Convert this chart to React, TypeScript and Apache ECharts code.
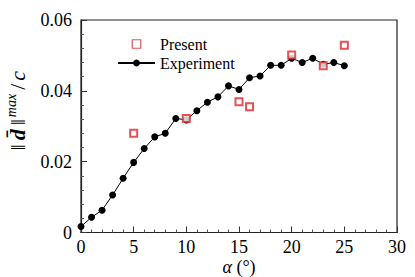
import React, { useEffect, useRef } from "react";
import * as echarts from "echarts";

const alphaExp = [0, 1, 2, 3, 4, 5, 6, 7, 8, 9, 10, 11, 12, 13, 14, 15, 16, 17, 18, 19, 20, 21, 22, 23, 24, 25];
const experiment = [0.0017, 0.0043, 0.0063, 0.0106, 0.0153, 0.0198, 0.0237, 0.027, 0.028, 0.0322, 0.0318, 0.0344, 0.0368, 0.0383, 0.0414, 0.0404, 0.0437, 0.0442, 0.0472, 0.0472, 0.0492, 0.048, 0.0492, 0.0475, 0.048, 0.0471];
const alphaPresent = [5, 10, 15, 16, 20, 23, 25];
const present = [0.028, 0.0322, 0.0369, 0.0355, 0.0501, 0.0471, 0.0529];

const FONT = "Liberation Serif";
const RED = "#e0262b";

export default function App() {
  const ref = useRef<HTMLDivElement>(null);
  useEffect(() => {
    if (!ref.current) return;
    const chart = echarts.init(ref.current, null, { renderer: "svg" });
    chart.setOption({
      animation: false,
      backgroundColor: "#fff",
      textStyle: { fontFamily: FONT },
      grid: {
        left: 81,
        right: 18,
        top: 20,
        bottom: 44.5,
        show: true,
        borderColor: "#222",
        borderWidth: 1.2,
        containLabel: false,
        outerBoundsMode: "none",
      },
      legend: {
        orient: "vertical",
        left: 112,
        top: 31,
        itemWidth: 37,
        itemHeight: 8.5,
        itemGap: 3,
        symbolKeepAspect: true,
        textStyle: { fontFamily: FONT, fontSize: 16, color: "#000" },
        data: [
          {
            name: "Present",
            icon: "path://M0,0L10,0L10,10L0,10Z",
            itemStyle: { color: "#fff", borderColor: RED, borderWidth: 1.2 },
          },
          { name: "Experiment" },
        ],
      },
      xAxis: {
        type: "value",
        min: 0,
        max: 30,
        interval: 5,
        name: "{i|α} {n|(°)}",
        nameLocation: "middle",
        nameGap: 25,
        nameMoveOverlap: false,
        nameTextStyle: {
          fontFamily: FONT,
          fontSize: 18,
          color: "#000",
          lineHeight: 18,
          rich: {
            i: { fontFamily: FONT, fontSize: 18, fontStyle: "italic", color: "#000", lineHeight: 18 },
            n: { fontFamily: FONT, fontSize: 18, color: "#000", lineHeight: 18 },
          },
        },
        axisLine: { show: true, lineStyle: { color: "#222", width: 1.2 } },
        axisTick: { show: true, inside: true, length: 6, lineStyle: { color: "#333" } },
        minorTick: { show: true, splitNumber: 5, length: 3, lineStyle: { color: "#555" } },
        splitLine: { show: false },
        axisLabel: { fontFamily: FONT, fontSize: 18, color: "#000", margin: 5 },
      },
      yAxis: {
        type: "value",
        min: 0,
        max: 0.06,
        interval: 0.02,
        name: "{n|‖}{b|d\u0304}{n|‖}{s|max}{n|/}{i|c}",
        nameLocation: "middle",
        nameGap: 51,
        nameRotate: 90,
        nameTextStyle: {
          fontFamily: FONT,
          fontSize: 22,
          color: "#000",
          padding: [0, 0, 0, 30],
          rich: {
            n: { fontFamily: FONT, fontSize: 22, color: "#000", lineHeight: 26, padding: [0, 1, 0, 1] },
            b: { fontFamily: FONT, fontSize: 22, fontStyle: "italic", fontWeight: "bold", color: "#000", lineHeight: 26, padding: [0, 3, 0, 3] },
            s: { fontFamily: FONT, fontSize: 14, fontStyle: "italic", color: "#000", verticalAlign: "top", padding: [0, 3, 0, 1] },
            i: { fontFamily: FONT, fontSize: 22, fontStyle: "italic", color: "#000", lineHeight: 26, padding: [0, 0, 0, 2] },
          },
        },
        axisLine: { show: true, lineStyle: { color: "#222", width: 1.2 } },
        axisTick: { show: true, inside: true, length: 6, lineStyle: { color: "#333" } },
        minorTick: { show: true, splitNumber: 5, length: 3, lineStyle: { color: "#555" } },
        splitLine: { show: false },
        axisLabel: {
          fontFamily: FONT,
          fontSize: 18,
          color: "#000",
          margin: 9,
          formatter: (v: number) => (v === 0 ? "0" : v.toFixed(2)),
        },
      },
      series: [
        {
          name: "Present",
          type: "scatter",
          data: alphaPresent.map((a, i) => [a, present[i]]),
          symbol: "emptyRect",
          symbolSize: 7,
          itemStyle: { color: RED, borderWidth: 1.2 },
          z: 3,
        },
        {
          name: "Experiment",
          type: "line",
          data: alphaExp.map((a, i) => [a, experiment[i]]),
          symbol: "circle",
          symbolSize: 7,
          showAllSymbol: true,
          lineStyle: { color: "#000", width: 1 },
          itemStyle: { color: "#000" },
          z: 2,
        },
      ],
    });
    return () => chart.dispose();
  }, []);
  return <div ref={ref} style={{ width: 415, height: 277, position: "absolute", left: 0, top: 0 }} />;
}
